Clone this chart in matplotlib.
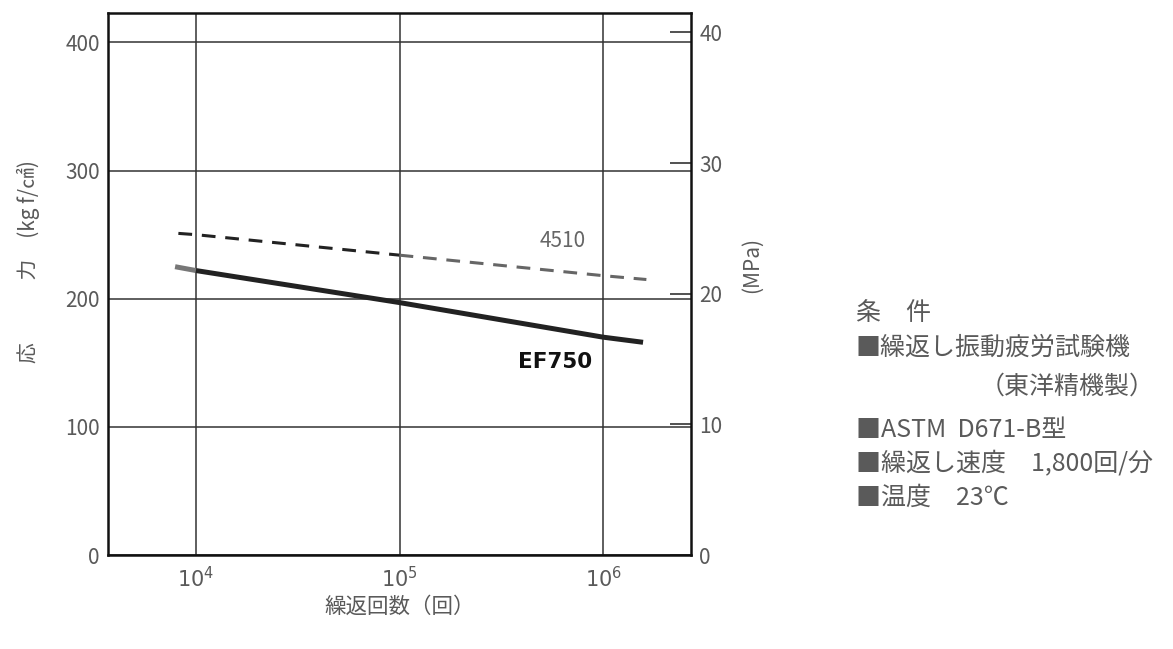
import numpy as np
import matplotlib
matplotlib.use('Agg')
import matplotlib.pyplot as plt

plt.rcParams['font.family'] = ['Noto Sans CJK JP', 'DejaVu Sans']

# S-N curve readings (cycles, stress kgf/cm2)
ef750_n = [7900, 1e4, 1e5, 1e6, 1.57e6]
ef750_s = [225, 222, 197, 170, 166]
g4510_n = [8200, 1e4, 1e5, 1e6, 1.63e6]
g4510_s = [251, 250, 234, 218, 215]

kgf_ticks = [0, 100, 200, 300, 400]
mpa_ticks = [0, 10, 20, 30, 40]
n_ticks = [1e4, 1e5, 1e6]
n_labels = ['$10^{4}$', '$10^{5}$', '$10^{6}$']

conditions = ['条　件',
              '■繰返し振動疲労試験機',
              '（東洋精機製）',
              '■ASTM  D671-B型',
              '■繰返し速度　1,800回/分',
              '■温度　23℃']

KGF_PER_MPA = 10.197
txt = '#5a5a5a'

fig = plt.figure(figsize=(11.73, 6.49), dpi=100)
W, H = 1173, 649
ax = fig.add_axes([108 / W, 1 - 555 / H, (691 - 108) / W, (555 - 13) / H])

ax.set_xscale('log')
ax.set_xlim(3700, 2.7e6)
ax.set_ylim(0, 423)

ax.grid(True, which='major', color='#333333', linewidth=1.1)
ax.set_axisbelow(True)
for sp in ax.spines.values():
    sp.set_linewidth(1.8)
    sp.set_color('#111111')

ax.set_xticks(n_ticks)
ax.set_xticklabels(n_labels)
ax.xaxis.set_minor_locator(matplotlib.ticker.NullLocator())
ax.set_yticks(kgf_ticks)
ax.tick_params(axis='both', length=0, labelsize=15, labelcolor=txt)
ax.tick_params(axis='y', pad=6)
ax.tick_params(axis='x', pad=9)

# EF750 solid line, first short stub lighter
ax.plot(ef750_n[:2], ef750_s[:2], color='#777777', linewidth=3.6, solid_capstyle='butt')
ax.plot(ef750_n[1:], ef750_s[1:], color='#222222', linewidth=3.6, solid_capstyle='butt')

# 4510 dashed line, dark to 1e5, lighter afterwards
ax.plot(g4510_n[:3], g4510_s[:3], color='#222222', linewidth=2.2, dashes=(4.5, 3.2))
ax.plot(g4510_n[2:], g4510_s[2:], color='#666666', linewidth=2.2, dashes=(4.5, 3.2))

ax.text(4.85e5, 245, '4510', fontsize=15, color='#666666', ha='left', va='center')
ax.text(3.8e5, 151, 'EF750', fontsize=15.5, color='#111111', fontweight='bold',
        ha='left', va='center', family=['DejaVu Sans'])

sec = ax.secondary_yaxis('right', functions=(lambda k: k / KGF_PER_MPA,
                                             lambda m: m * KGF_PER_MPA))
sec.set_yticks(mpa_ticks)
sec.tick_params(direction='in', length=15, width=1.2, color='#333333',
                labelsize=15, labelcolor=txt, pad=6)
sec.spines['right'].set_visible(False)

fig.text(400 / W, 1 - 607 / H, '繰返回数（回）', fontsize=15.5, color=txt,
         ha='center', va='center')
fig.text(28 / W, 1 - 262 / H, '応　　　力　(kg f/㎠)', fontsize=15, color=txt,
         rotation=90, ha='center', va='center')
fig.text(752 / W, 1 - 265 / H, '(MPa)', fontsize=15, color=txt,
         rotation=90, ha='center', va='center')

ys = [313, 348, 387, 430, 464, 498]
for i, (s, y) in enumerate(zip(conditions, ys)):
    if i == 2:
        fig.text(1155 / W, 1 - y / H, s, fontsize=18, color=txt, ha='right', va='center')
    else:
        fig.text(856 / W, 1 - y / H, s, fontsize=18, color=txt, ha='left', va='center')

fig.savefig('out.png', dpi=100)
